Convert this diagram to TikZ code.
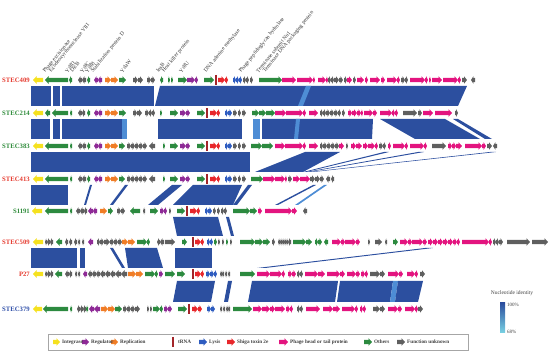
\documentclass[tikz,border=0pt]{standalone}
\usepackage{fontspec}
\setmainfont{Liberation Serif}
\usetikzlibrary{positioning}

\definecolor{cI}{HTML}{F5E11E}
\definecolor{cR}{HTML}{8E2A96}
\definecolor{cP}{HTML}{F07D26}
\definecolor{cT}{HTML}{A3262A}
\definecolor{cL}{HTML}{2E5CC0}
\definecolor{cS}{HTML}{E8272B}
\definecolor{cH}{HTML}{E3147F}
\definecolor{cO}{HTML}{2C8A3F}
\definecolor{cU}{HTML}{5F5F5F}
\definecolor{blk}{HTML}{2C4F9F}
\definecolor{blklt}{HTML}{4E8DD5}
\definecolor{cbarlow}{HTML}{7AD3E4}
\definecolor{tred}{HTML}{E53A2E}
\definecolor{tgreen}{HTML}{2E8B3A}
\definecolor{tblue}{HTML}{2F4FA8}

\tikzset{
  strain/.style={anchor=east,inner sep=1pt,font=\fontsize{6.7}{7}\selectfont\bfseries},
  genelabel/.style={anchor=west,rotate=51,inner sep=0pt,font=\fontsize{5.5}{6}\selectfont,text=black!80},
  legtext/.style={anchor=west,inner sep=1pt,font=\fontsize{5.2}{6}\selectfont\bfseries,text=black!75},
  trna/.style={cT,line width=1.1pt},
}

\newcommand\genetrack[2]{%
  \foreach \a/\b/\c in {#2}{
    \pgfmathsetmacro\hd{ifthenelse(\b>\a,1,-1)*min(3.5,0.6*abs(\b-\a))}
    \fill[\c] (\a,#1-2.2) -- ({\b-\hd},#1-2.2) -- ({\b-\hd},#1-3.8) -- (\b,#1)
      -- ({\b-\hd},#1+3.8) -- ({\b-\hd},#1+2.2) -- (\a,#1+2.2) -- cycle;
  }}
\newcommand\blocks[3]{%
  \foreach \a/\b/\c/\d/\e in {#3}{
    \fill[\e] (\a,#1) -- (\b,#1) -- (\d,#2) -- (\c,#2) -- cycle;
  }}

\begin{document}
\begin{tikzpicture}[x=1pt,y=-1pt]
  \useasboundingbox (0,0) rectangle (550,352);

  \blocks{86}{106}{31/51/31/51/blk, 53/60/53/60/blk, 62/154/62/154/blk, 160/467/155/458/blk, 306/311/298/303/blklt}
  \blocks{119}{139}{31/50/31/50/blk, 53/60/53/60/blk, 62/122/62/122/blk, 122/127/122/127/blklt, 158/242/158/242/blk,
    253/260/253/260/blklt, 262/373/262/372/blk, 296/300/294/298/blklt, 380/445/415/480/blk, 453/458/485/492/blk}
  \blocks{152}{172}{31/250/31/250/blk, 305/340/255/303/blk, 384/389/303/306/blk, 418/424/306/309/blk, 490/496/309/313/blk}
  \blocks{185}{205}{31/68/31/68/blk, 90/92/84/86/blk, 125/128/110/113/blk, 172/182/148/158/blk, 193/242/173/233/blk,
    248/252/233/237/blk, 313/316/275/278/blk, 324/327/295/298/blklt}
  \blocks{217}{236}{173/218/177/223/blk, 226/229/231/234/blk}
  \blocks{248}{268}{31/77/31/77/blk, 80/85/80/85/blk, 110/113/122/125/blk, 125/157/128/163/blk, 175/212/175/212/blk,
    425/433/257/265/blk}
  \blocks{281}{302}{177/215/173/211/blk, 228/232/224/228/blk, 252/338/248/335/blk, 340/393/337/390/blk,
    393/398/390/395/blklt, 398/423/395/418/blk}

  \genetrack{80}{43/33/cI, 68/45/cO, 72/69/cO, 82/78/cU, 86/82/cU, 90/87/cO, 98/94/cR, 102/98/cR, 105/111/cP, 111/118/cP,
    119/126/cO, 133/138/cU, 138/143/cU, 147/151/cU, 151/155/cU, 163/160/cO, 168/170/cO, 171/173/cO, 178/187/cO,
    187/195/cR, 195/198/cR, 204/214/cO, 218/225/cS, 225/228/cS, 233/236/cL, 236/239/cL, 239/242/cL, 243/246/cU,
    246/249/cU, 250/253/cU, 259/282/cO, 282/296/cH, 297/313/cH, 313/315/cH, 318/326/cH, 326/328/cH, 328/331/cU,
    331/334/cU, 334/339/cU, 339/343/cU, 344/347/cU, 347/352/cH, 353/356/cU, 357/364/cH, 365/368/cH, 370/380/cH,
    381/385/cH, 387/397/cH, 397/400/cH, 401/405/cU, 405/408/cU, 410/425/cH, 425/428/cH, 429/431/cH, 432/442/cH,
    443/458/cH, 458/461/cH, 462/467/cU, 475/471/cU}
  \genetrack{113}{43/33/cI, 50/45/cO, 68/52/cO, 72/70/cO, 82/78/cU, 85/82/cU, 90/87/cO, 98/94/cR, 102/98/cR, 105/111/cP,
    111/118/cP, 119/126/cO, 133/137/cU, 137/142/cU, 145/149/cU, 149/152/cU, 152/155/cU, 160/162/cO, 170/178/cO,
    180/186/cR, 186/190/cR, 197/205/cO, 210/217/cS, 217/220/cS, 225/228/cL, 228/232/cL, 233/237/cU, 238/241/cU,
    242/246/cU, 252/259/cO, 259/266/cO, 266/275/cO, 275/286/cH, 286/303/cH, 303/306/cH, 309/318/cH, 320/323/cU,
    323/326/cU, 326/330/cU, 330/334/cU, 334/338/cU, 338/341/cU, 342/345/cU, 348/352/cH, 352/357/cH, 357/361/cH,
    361/363/cH, 364/373/cH, 373/377/cH, 380/392/cH, 392/395/cH, 395/398/cH, 403/417/cU, 418/422/cU, 423/433/cH,
    435/452/cH, 455/458/cU}
  \genetrack{146}{43/33/cI, 68/45/cO, 72/70/cO, 82/78/cU, 86/82/cU, 90/87/cO, 98/94/cR, 102/98/cR, 105/111/cP, 111/118/cP,
    119/125/cO, 127/131/cU, 131/135/cU, 135/139/cU, 139/143/cU, 143/147/cU, 155/149/cU, 163/165/cO, 170/178/cO,
    180/186/cR, 186/190/cR, 197/205/cO, 210/217/cS, 217/220/cS, 225/228/cL, 228/232/cL, 233/237/cU, 238/241/cU,
    242/246/cU, 251/262/cO, 262/273/cO, 275/285/cH, 285/303/cH, 303/306/cH, 309/318/cH, 320/323/cU, 323/327/cU,
    327/331/cU, 331/335/cU, 335/339/cU, 339/344/cH, 346/348/cU, 351/356/cH, 356/362/cH, 363/368/cH, 368/375/cH,
    375/378/cH, 379/383/cU, 383/386/cU, 388/391/cH, 393/405/cH, 405/408/cH, 410/424/cH, 424/427/cH, 432/446/cU,
    448/452/cH, 452/456/cH, 456/462/cH, 465/482/cH, 482/486/cH, 487/492/cU, 497/493/cU}
  \genetrack{179}{43/33/cI, 68/45/cO, 72/70/cO, 82/78/cU, 86/82/cU, 90/87/cO, 98/94/cR, 102/98/cR, 105/111/cP, 111/118/cP,
    119/125/cO, 127/131/cU, 131/135/cU, 135/139/cU, 139/143/cU, 143/147/cU, 155/149/cU, 163/165/cO, 170/178/cO,
    180/186/cR, 186/190/cR, 197/205/cO, 210/217/cS, 217/220/cS, 225/228/cL, 228/232/cL, 233/237/cU, 238/241/cU,
    242/246/cU, 251/263/cO, 263/275/cH, 275/285/cH, 285/287/cH, 288/292/cU, 293/300/cH, 300/310/cH, 310/315/cU,
    315/320/cU, 320/324/cU, 330/326/cU, 334/331/cU}
  \genetrack{211}{42/32/cI, 68/45/cO, 72/70/cO, 80/76/cU, 84/80/cU, 87/84/cU, 93/88/cR, 97/93/cR, 100/107/cP, 108/113/cO,
    117/121/cU, 121/125/cU, 140/130/cO, 145/143/cU, 150/158/cO, 160/164/cR, 164/167/cR, 169/171/cU, 177/185/cO,
    190/197/cS, 197/200/cS, 205/208/cL, 208/212/cL, 213/216/cU, 217/220/cU, 221/224/cU, 224/227/cU, 233/250/cO,
    250/257/cO, 258/262/cH, 265/292/cH, 292/297/cH, 307/303/cU}
  \genetrack{242}{43/33/cI, 47/45/cU, 50/47/cU, 53/50/cU, 62/56/cO, 68/65/cU, 72/69/cU, 77/74/cU, 80/78/cU, 84/82/cU,
    93/88/cR, 97/100/cU, 100/104/cU, 104/110/cU, 110/114/cU, 114/118/cU, 118/122/cU, 122/128/cP, 128/135/cP,
    137/147/cO, 147/150/cO, 160/157/cU, 164/160/cU, 165/175/cU, 182/187/cO, 195/201/cS, 201/204/cS, 207/210/cL,
    210/213/cL, 214/217/cO, 218/220/cU, 222/224/cU, 226/228/cO, 230/232/cU, 240/255/cO, 255/263/cO, 263/270/cO,
    272/275/cU, 280/278/cU, 282/280/cU, 284/282/cU, 286/284/cU, 288/286/cU, 291/288/cU, 293/306/cO, 306/312/cO,
    315/318/cO, 318/322/cO, 328/324/cO, 332/341/cH, 341/345/cH, 345/356/cH, 356/360/cH, 368/370/cU, 375/382/cU,
    387/385/cU, 393/398/cO, 400/408/cH, 408/412/cH, 412/423/cH, 423/427/cH, 428/433/cH, 433/438/cH, 438/443/cH,
    443/448/cH, 448/453/cH, 453/457/cH, 457/460/cH, 462/489/cH, 489/492/cH, 493/496/cU, 496/499/cU, 499/503/cU,
    507/530/cU, 532/548/cU}
  \genetrack{274}{43/33/cI, 47/45/cU, 50/47/cU, 53/50/cU, 62/55/cO, 69/65/cU, 72/69/cU, 77/75/cU, 80/78/cU, 87/83/cR,
    92/88/cU, 96/92/cU, 100/96/cU, 105/100/cU, 110/105/cU, 115/110/cU, 121/115/cU, 127/121/cU, 128/136/cP, 136/143/cP,
    145/155/cO, 155/158/cO, 159/163/cR, 165/175/cO, 177/185/cO, 195/201/cS, 201/204/cS, 206/210/cL, 210/214/cL,
    214/217/cL, 222/220/cU, 224/222/cU, 227/225/cU, 230/228/cU, 240/255/cO, 257/270/cH, 270/282/cH, 282/285/cH,
    288/292/cH, 292/296/cH, 297/300/cU, 300/303/cU, 305/318/cH, 318/325/cH, 327/340/cH, 340/345/cH, 347/356/cH,
    356/360/cH, 361/365/cH, 365/368/cH, 370/380/cU, 380/385/cU, 388/399/cH, 399/403/cH, 407/415/cH, 415/418/cH,
    420/425/cU}
  \genetrack{309}{42/33/cI, 68/43/cO, 72/70/cO, 80/77/cU, 83/80/cU, 86/83/cU, 88/86/cO, 94/89/cR, 100/94/cR, 101/108/cP,
    108/115/cP, 115/122/cO, 123/127/cU, 127/131/cU, 131/135/cU, 135/140/cU, 147/149/cU, 150/152/cU, 153/160/cO,
    160/163/cO, 164/168/cR, 168/172/cR, 178/187/cO, 192/198/cS, 198/202/cS, 207/211/cL, 211/215/cL, 222/220/cU,
    225/223/cU, 228/226/cU, 230/228/cU, 233/252/cO, 253/262/cH, 262/270/cH, 270/275/cH, 275/285/cH, 286/290/cH,
    290/293/cH, 297/300/cU, 300/303/cU, 306/320/cH, 323/333/cH, 333/340/cH, 342/355/cH, 355/358/cH, 360/363/cH,
    363/366/cH, 373/380/cU, 380/385/cU, 388/398/cH, 398/402/cH, 405/415/cH, 415/418/cH, 418/423/cU}

  \foreach \x/\y in {216/80, 207/113, 207/146, 207/179, 187/211, 193/242, 193/274, 189/309}
    \draw[trna] (\x,\y-5) -- (\x,\y+5);

  \node[strain,text=tred] (s409) at (31,80) {STEC409};
  \node[strain,text=tgreen] (s214) at (31,113) {STEC214};
  \node[strain,text=tgreen] (s383) at (31,146) {STEC383};
  \node[strain,text=tred] (s413) at (31,179) {STEC413};
  \node[strain,text=tgreen] (s1191) at (31,211) {S1191};
  \node[strain,text=tred] (s509) at (31,242) {STEC509};
  \node[strain,text=tred] (p27) at (31,274) {P27};
  \node[strain,text=tblue] (s379) at (31,309) {STEC379};

  \foreach \x/\t [count=\i] in {44/Phage excisionase, 50/Exodeoxyribonuclease VIII, 66/YdfD, 71/DicB, 81/YdfC,
    86/YdfB, 92/Stabilization protein D, 121/YdaW, 157/InsB, 163/Host killer protein, 180/YdfU,
    205/DNA adenine methylase, 240/Phage peptidoglycan hydrolase, 257/Terminase subunit Nu1,
    264/Terminase DNA packaging protein}
    \node[genelabel] (g\i) at (\x,72) {\t};

  \draw[black!35,line width=0.4pt] (48,334) rectangle (468,350);
  \genetrack{342}{53/60/cI, 82/89/cR, 111/118/cP, 199/207/cL, 227/235/cS, 279/288/cH, 364/372/cO, 397/405/cU}
  \draw[trna] (173,337) -- (173,347);
  \foreach \x/\t [count=\i] in {61/Integrase, 90/Regulator, 119/Replication, 177/tRNA, 208/Lysis,
    236/Shiga toxin 2e, 289/Phage head or tail protein, 373/Others, 406/Function unknown}
    \node[legtext] (k\i) at (\x,342) {\t};

  \shade[top color=blk,middle color=blklt,bottom color=cbarlow] (500,303) rectangle (505,333);
  \node[font=\fontsize{5.5}{6}\selectfont,text=black!75] (ctitle) at (512,293) {Nucleotide identity};
  \node[anchor=west,inner sep=1pt,font=\fontsize{5}{6}\selectfont,text=black!75] (c100) at (506,305) {100\%};
  \node[anchor=west,inner sep=1pt,font=\fontsize{5}{6}\selectfont,text=black!75] (c68) at (506,332) {68\%};
\end{tikzpicture}
\end{document}
